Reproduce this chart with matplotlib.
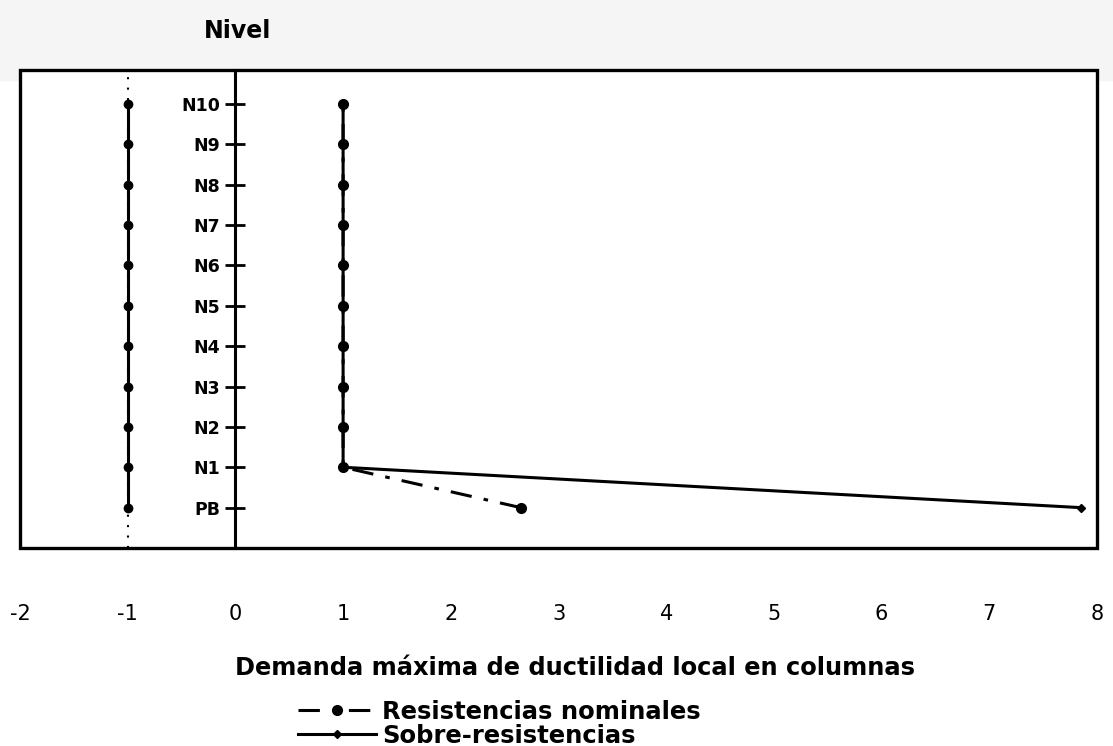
import matplotlib.pyplot as plt
import matplotlib.patches as mpatches

plt.rcParams['font.family'] = ['DejaVu Sans']

niveles = ['PB', 'N1', 'N2', 'N3', 'N4', 'N5', 'N6', 'N7', 'N8', 'N9', 'N10']
pos = list(range(len(niveles)))
nominales = [2.65, 1, 1, 1, 1, 1, 1, 1, 1, 1, 1]
sobre = [7.85, 1, 1, 1, 1, 1, 1, 1, 1, 1, 1]
izquierda = [-1, -1, -1, -1, -1, -1, -1, -1, -1, -1, -1]
xticks = [-2, -1, 0, 1, 2, 3, 4, 5, 6, 7, 8]

fig = plt.figure(figsize=(11.13, 7.46), dpi=100)
# banda gris clara del escaneo
fig.patches.append(mpatches.Rectangle((0, 1 - 80 / 746), 1, 80 / 746, transform=fig.transFigure,
                                      color='#f5f5f5', zorder=0))
ax = fig.add_axes([20 / 1113, 198 / 746, 1077 / 1113, 478 / 746])
ax.set_zorder(1)

ax.axvline(-1, color='k', lw=1.5, ls=(0, (1, 4)), zorder=1)
ax.plot(izquierda, pos, color='k', lw=2.2, marker='o', ms=6)
l_sob, = ax.plot(sobre, pos, color='k', lw=2.2, marker='D', ms=4)
l_nom, = ax.plot(nominales, pos, color='k', lw=2.2, ls=(0, (7, 4, 1.5, 4)), marker='o', ms=7)

ax.set_xlim(-2, 8)
ax.set_ylim(-1, 10.84)

for s in ['top', 'right', 'bottom']:
    ax.spines[s].set_visible(False)
ax.spines['left'].set_position(('data', 0))
ax.spines['left'].set_linewidth(2.2)
ax.add_patch(mpatches.Rectangle((0, 0), 1, 1, transform=ax.transAxes, fill=False,
                                lw=2.4, ec='k', clip_on=False, zorder=5))

ax.set_yticks(pos)
ax.set_yticklabels(niveles, fontsize=12.5, fontweight='bold')
ax.tick_params(axis='y', direction='inout', length=14, width=2, pad=4)
ax.set_xticks(xticks)
ax.set_xticklabels([str(v) for v in xticks], fontsize=15)
ax.tick_params(axis='x', length=0, pad=40)
ax.set_xlabel('Demanda máxima de ductilidad local en columnas', fontsize=17.4,
              fontweight='bold')
ax.xaxis.set_label_coords(0.515, -0.226)

fig.text(238 / 1113, 1 - 31 / 746, 'Nivel', fontsize=17, fontweight='bold', ha='center', va='center')

# dos leyendas separadas para imitar el interlineado apretado
for hnd, lab, yc in [(l_nom, 'Resistencias nominales', 712), (l_sob, 'Sobre-resistencias', 736)]:
    fig.legend([hnd], [lab], loc='center left', bbox_to_anchor=(298 / 1113, 1 - yc / 746),
               frameon=False, prop={'size': 17.5, 'weight': 'bold'}, handlelength=3.2,
               handletextpad=0.25, borderpad=0, borderaxespad=0)

fig.savefig('out.png', dpi=100)
